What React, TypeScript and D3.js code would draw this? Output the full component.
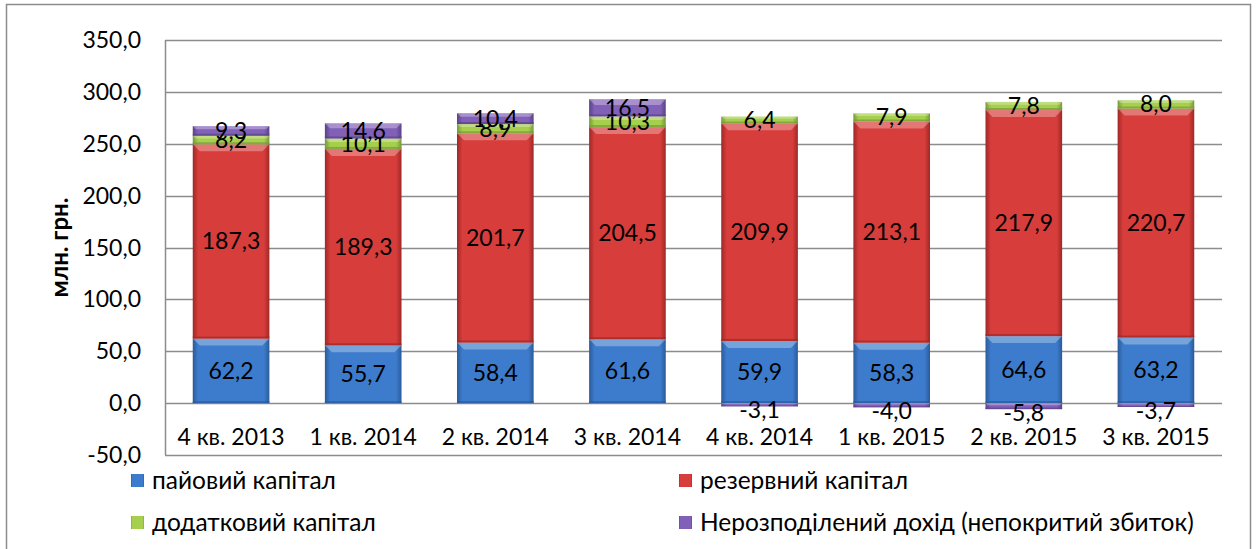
import React, { useEffect, useRef } from "react";
import * as d3 from "d3";

const categories = ["4 кв. 2013", "1 кв. 2014", "2 кв. 2014", "3 кв. 2014", "4 кв. 2014", "1 кв. 2015", "2 кв. 2015", "3 кв. 2015"];
const shareCapital = [62.2, 55.7, 58.4, 61.6, 59.9, 58.3, 64.6, 63.2];
const reserveCapital = [187.3, 189.3, 201.7, 204.5, 209.9, 213.1, 217.9, 220.7];
const extraCapital = [8.2, 10.1, 8.9, 10.3, 6.4, 7.9, 7.8, 8.0];
const retained = [9.3, 14.6, 10.4, 16.5, -3.1, -4.0, -5.8, -3.7];
const yTicks = [-50, 0, 50, 100, 150, 200, 250, 300, 350];

const seriesNames = ["пайовий капітал", "резервний капітал", "додатковий капітал", "Нерозподілений дохід (непокритий збиток)"];
const seriesValues = [shareCapital, reserveCapital, extraCapital, retained];
const colors = ["#3d7ccc", "#d63d3b", "#a5cf4c", "#8160b8"];
const darker = ["#2a5a99", "#9e2826", "#76993a", "#5b4287"];

const W = 1257, H = 549;
const FONT = "Lato, 'Open Sans', sans-serif";
const FS = 23;

export default function App() {
  const ref = useRef<SVGSVGElement>(null);

  useEffect(() => {
    const svg = d3.select(ref.current);
    svg.selectAll("*").remove();

    const margin = { left: 165, right: 35, top: 40, bottom: 94 };
    const x = d3.scaleBand().domain(categories).range([margin.left, W - margin.right]).paddingInner(0.42).paddingOuter(0.21);
    const y = d3.scaleLinear().domain([-50, 350]).range([H - margin.bottom, margin.top]);

    const defs = svg.append("defs");
    colors.forEach((c, i) => {
      const g = defs.append("linearGradient").attr("id", "g" + i).attr("x1", 0).attr("x2", 1).attr("y1", 0).attr("y2", 0);
      g.append("stop").attr("offset", "0%").attr("stop-color", darker[i]);
      g.append("stop").attr("offset", "7%").attr("stop-color", c);
      g.append("stop").attr("offset", "93%").attr("stop-color", c);
      g.append("stop").attr("offset", "100%").attr("stop-color", darker[i]);
    });

    // outer frame
    svg.append("rect").attr("x", 6.5).attr("y", 4.5).attr("width", W - 13).attr("height", H)
      .attr("fill", "white").attr("stroke", "#8c8c8c").attr("stroke-width", 1.5);

    // gridlines
    svg.append("g").selectAll("line").data(yTicks).enter().append("line")
      .attr("x1", margin.left).attr("x2", W - margin.right)
      .attr("y1", d => Math.round(y(d)) + 0.5).attr("y2", d => Math.round(y(d)) + 0.5)
      .attr("stroke", "#8c8c8c").attr("stroke-width", 1.5);
    svg.append("line").attr("x1", margin.left + 0.5).attr("x2", margin.left + 0.5)
      .attr("y1", y(350)).attr("y2", y(-50)).attr("stroke", "#8c8c8c").attr("stroke-width", 1.5);

    // y tick labels
    svg.append("g").selectAll("text").data(yTicks).enter().append("text")
      .attr("x", 141).attr("y", d => y(d)).attr("dy", "0.35em").attr("text-anchor", "end")
      .attr("font-family", FONT).attr("font-size", FS).attr("fill", "#000")
      .text(d => d3.format(".1f")(d).replace(".", ",").replace("−", "-"));

    svg.append("text").attr("transform", `translate(68,${y(150)}) rotate(-90)`)
      .attr("text-anchor", "middle").attr("font-family", FONT).attr("font-weight", "bold")
      .attr("font-size", 24).text("млн. грн.");

    // stacked bars
    categories.forEach((c, i) => {
      let pos = 0, neg = 0;
      seriesValues.forEach((vals, s) => {
        const v = vals[i];
        let y0: number, y1: number;
        if (v >= 0) { y0 = pos; y1 = pos + v; pos = y1; } else { y0 = neg; y1 = neg + v; neg = y1; }
        const top = y(Math.max(y0, y1)), bot = y(Math.min(y0, y1));
        const bx = x(c)!;
        const bw = x.bandwidth();
        svg.append("rect").attr("x", bx).attr("y", top).attr("width", bw).attr("height", bot - top)
          .attr("fill", `url(#g${s})`);
        // bevel: light top band, dark bottom edge
        const bev = Math.min(7, (bot - top) / 3);
        svg.append("path")
          .attr("d", `M${bx},${top}H${bx + bw}L${bx + bw - bev},${top + bev}H${bx + bev}Z`)
          .attr("fill", "white").attr("opacity", 0.3);
        svg.append("rect").attr("x", bx).attr("y", bot - Math.min(2, (bot - top) / 4)).attr("width", bw)
          .attr("height", Math.min(2, (bot - top) / 4)).attr("fill", darker[s]).attr("opacity", 0.7);
        const ly = v >= 0 ? (top + bot) / 2 : bot + 4;
        svg.append("text").attr("x", bx + bw / 2).attr("y", ly).attr("dy", "0.35em")
          .attr("text-anchor", "middle").attr("font-family", FONT).attr("font-size", FS).attr("fill", "#000")
          .text(d3.format(".1f")(v).replace(".", ",").replace("−", "-"));
      });
    });

    // category labels
    svg.append("g").selectAll("text").data(categories).enter().append("text")
      .attr("x", d => x(d)! + x.bandwidth() / 2).attr("y", 437).attr("dy", "0.35em")
      .attr("text-anchor", "middle").attr("font-family", FONT).attr("font-size", FS).text(d => d);

    // legend
    const legendPos = [[131, 480], [679, 480], [131, 522], [679, 522]];
    seriesNames.forEach((n, s) => {
      const [lx, ly] = legendPos[s];
      svg.append("rect").attr("x", lx).attr("y", ly - 6).attr("width", 13).attr("height", 13).attr("fill", `url(#g${s})`);
      svg.append("text").attr("x", lx + 21).attr("y", ly).attr("dy", "0.35em")
        .attr("font-family", FONT).attr("font-size", 24.5).text(n);
    });
  }, []);

  return (
    <svg ref={ref} width={W} height={H} style={{ position: "absolute", left: 0, top: 0 }} />
  );
}
